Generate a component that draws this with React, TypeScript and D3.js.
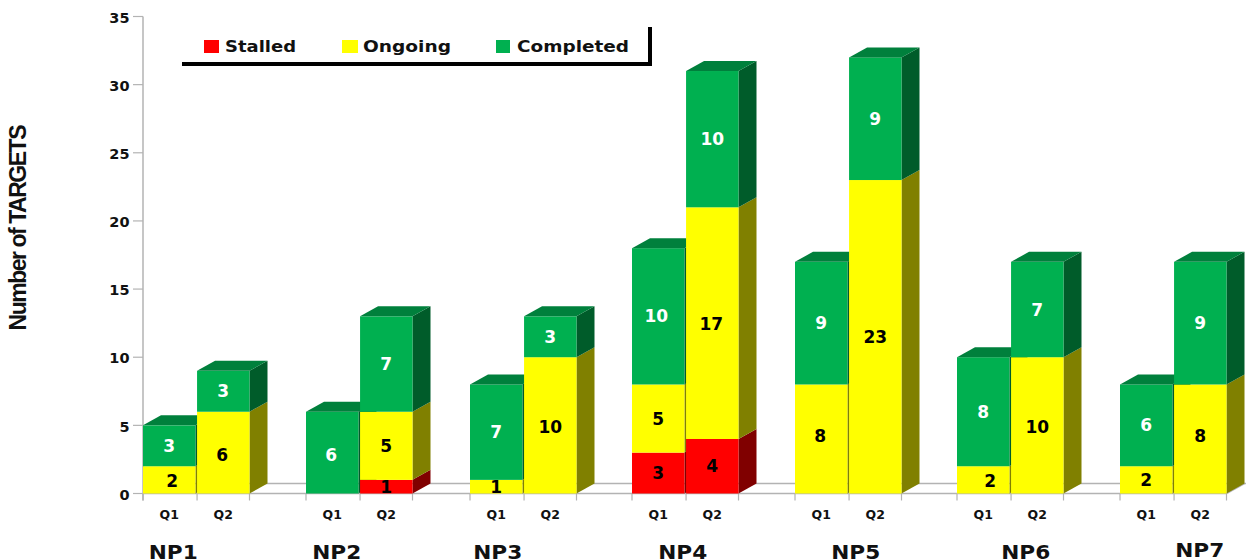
import React from "react";
import * as d3 from "d3";

const groups = ["NP1", "NP2", "NP3", "NP4", "NP5", "NP6", "NP7"];
const quarters = ["Q1", "Q2"];
const seriesNames = ["Stalled", "Ongoing", "Completed"];
const stalled = [0, 0, 0, 1, 0, 0, 3, 4, 0, 0, 0, 0, 0, 0];
const ongoing = [2, 6, 0, 5, 1, 10, 5, 17, 8, 23, 2, 10, 2, 8];
const completed = [3, 3, 6, 7, 7, 3, 10, 10, 9, 9, 8, 7, 6, 9];
const seriesValues = [stalled, ongoing, completed];
const yTicks = [0, 5, 10, 15, 20, 25, 30, 35];

const front = ["#ff0000", "#ffff00", "#00b050"];
const side = ["#800000", "#808000", "#005c2a"];
const topFace = "#00803c";
const labelFill = ["#000000", "#000000", "#ffffff"];
const groupStart = [143, 306, 470, 632, 795, 957, 1120];
const groupLabelOffset = [-23.5, -23, -26, -3, 7, 15, 26];
const groupLabelY = [558.5, 558.5, 558.5, 558.5, 558.5, 558.5, 557];
const legendX = [204, 342, 496];
const legendW = [15, 16, 14];
const legendTextX = [225, 363, 517];
const legendTextW = [71, 88, 112];
// hand-placed label shifts in the reference: "barIndex-seriesIndex": [dx, dy]
const labelNudge: Record<string, [number, number]> = {
  "0-1": [3, 1],
  "1-1": [-1, 2],
  "2-2": [-1, 2],
  "5-1": [0, 2],
  "8-1": [-1, -3],
  "10-1": [7, 1],
  "11-1": [0, 2],
  "13-1": [0, -3],
  "6-2": [-2, 0],
  "7-1": [-1, 1],
};

const W = 1246, H = 560;
const dx = 18, dy = -10;
const font = "'DejaVu Sans', sans-serif";
const axisGray = "#b3b3b3";

const y = d3.scaleLinear().domain([0, 35]).range([493.5, 16.5]);
const xGroup = d3.scaleOrdinal<string, number>().domain(groups).range(groupStart);
const groupW = 106.5;
const xQ = d3.scaleBand<string>().domain(quarters).range([0, groupW]).paddingInner(0.03);

export default function App() {
  const bw = xQ.bandwidth();
  const y0 = y(0);
  const bars: React.ReactNode[] = [];
  const labels: React.ReactNode[] = [];

  groups.forEach((g, gi) => {
    quarters.forEach((q, qi) => {
      const idx = gi * 2 + qi;
      const x0 = xGroup(g)! + xQ(q)!;
      let cum = 0;
      let topY = y0;
      seriesValues.forEach((vals, si) => {
        const v = vals[idx];
        if (!v) return;
        const a = y(cum), b = y(cum + v);
        cum += v;
        topY = b;
        const mid = (a + b) / 2;
        const sidePath = d3.path();
        sidePath.moveTo(x0 + bw, a);
        sidePath.lineTo(x0 + bw + dx, a + dy);
        sidePath.lineTo(x0 + bw + dx, b + dy);
        sidePath.lineTo(x0 + bw, b);
        sidePath.closePath();
        bars.push(
          <g key={`${idx}-${si}`}>
            <path d={sidePath.toString()} fill={side[si]} />
            <rect x={x0} y={b} width={bw} height={a - b} fill={front[si]} />
          </g>
        );
        const [nx, ny] = labelNudge[`${idx}-${si}`] ?? [0, 0];
        labels.push(
          <text key={`${idx}-${si}`} x={x0 + bw / 2 + nx} y={mid + ny} dy="0.36em" textAnchor="middle"
            fontFamily={font} fontWeight="bold" fontSize={17} fill={labelFill[si]}>{v}</text>
        );
      });
      const x1 = x0 + bw;
      const tp = d3.path();
      tp.moveTo(x0, topY);
      tp.lineTo(x0 + dx, topY + dy);
      tp.lineTo(x1 + dx, topY + dy);
      tp.lineTo(x1, topY);
      tp.closePath();
      bars.push(<path key={`top-${idx}`} d={tp.toString()} fill={topFace} />);
    });
  });

  const xEnd = xGroup(groups[6])! + groupW;
  const tickXs: number[] = [];
  groups.forEach((g) => {
    const s = xGroup(g)!;
    tickXs.push(s, s + xQ("Q2")!, s + groupW);
  });

  return (
    <svg width={W} height={H} viewBox={`0 0 ${W} ${H}`}
      style={{ position: "absolute", left: 0, top: 0, background: "#fff" }}>
      {/* floor */}
      <line x1={143 + dx} x2={W} y1={y0 + dy} y2={y0 + dy} stroke={axisGray} strokeWidth={1.5} />
      <line x1={xEnd} x2={xEnd + dx} y1={y0} y2={y0 + dy} stroke={axisGray} strokeWidth={1.5} />
      <line x1={143} x2={xEnd} y1={y0} y2={y0} stroke={axisGray} strokeWidth={1.5} />
      {tickXs.map((t, i) => (
        <line key={i} x1={t} x2={t} y1={y0} y2={y0 + 7} stroke={axisGray} strokeWidth={1.2} />
      ))}
      {/* y axis */}
      <line x1={143} x2={143} y1={y(35)} y2={y0 + 7} stroke={axisGray} strokeWidth={1.5} />
      {yTicks.map((t) => (
        <g key={t}>
          <line x1={133} x2={143} y1={y(t)} y2={y(t)} stroke={axisGray} strokeWidth={1.2} />
          <text x={129.5} y={y(t) + 1} dy="0.36em" textAnchor="end" fontFamily={font} fontWeight="bold"
            fontSize={14.5} fill="#111">{t}</text>
        </g>
      ))}
      {bars}
      {labels}
      {/* category labels */}
      {groups.map((g) =>
        quarters.map((q) => (
          <text key={g + q} x={xGroup(g)! + xQ(q)! + bw / 2} y={519} textAnchor="middle"
            fontFamily={font} fontWeight="bold" fontSize={12.5} fill="#111">{q}</text>
        ))
      )}
      {groups.map((g, gi) => (
        <text key={g} x={xGroup(g)! + 53.7 + groupLabelOffset[gi]} y={groupLabelY[gi]} textAnchor="middle"
          fontFamily={font} fontWeight="bold" fontSize={20} textLength={49} lengthAdjust="spacingAndGlyphs"
          fill="#111">{g}</text>
      ))}
      {/* legend */}
      <path d="M182 64 H650 V27" fill="none" stroke="#000" strokeWidth={4} />
      {seriesNames.map((s, i) => (
        <g key={s}>
          <rect x={legendX[i]} y={40} width={legendW[i]} height={13} fill={front[i]} />
          <text x={legendTextX[i]} y={52} fontFamily={font} fontWeight="bold" fontSize={16.5}
            textLength={legendTextW[i]} lengthAdjust="spacingAndGlyphs" fill="#111">{s}</text>
        </g>
      ))}
      {/* y title */}
      <text transform="translate(26,227.5) rotate(-90)" textAnchor="middle"
        fontFamily="'Liberation Sans', Arial, sans-serif" fontWeight="bold" fontSize={23} textLength={206}
        lengthAdjust="spacing" fill="#111">Number of TARGETS</text>
    </svg>
  );
}
